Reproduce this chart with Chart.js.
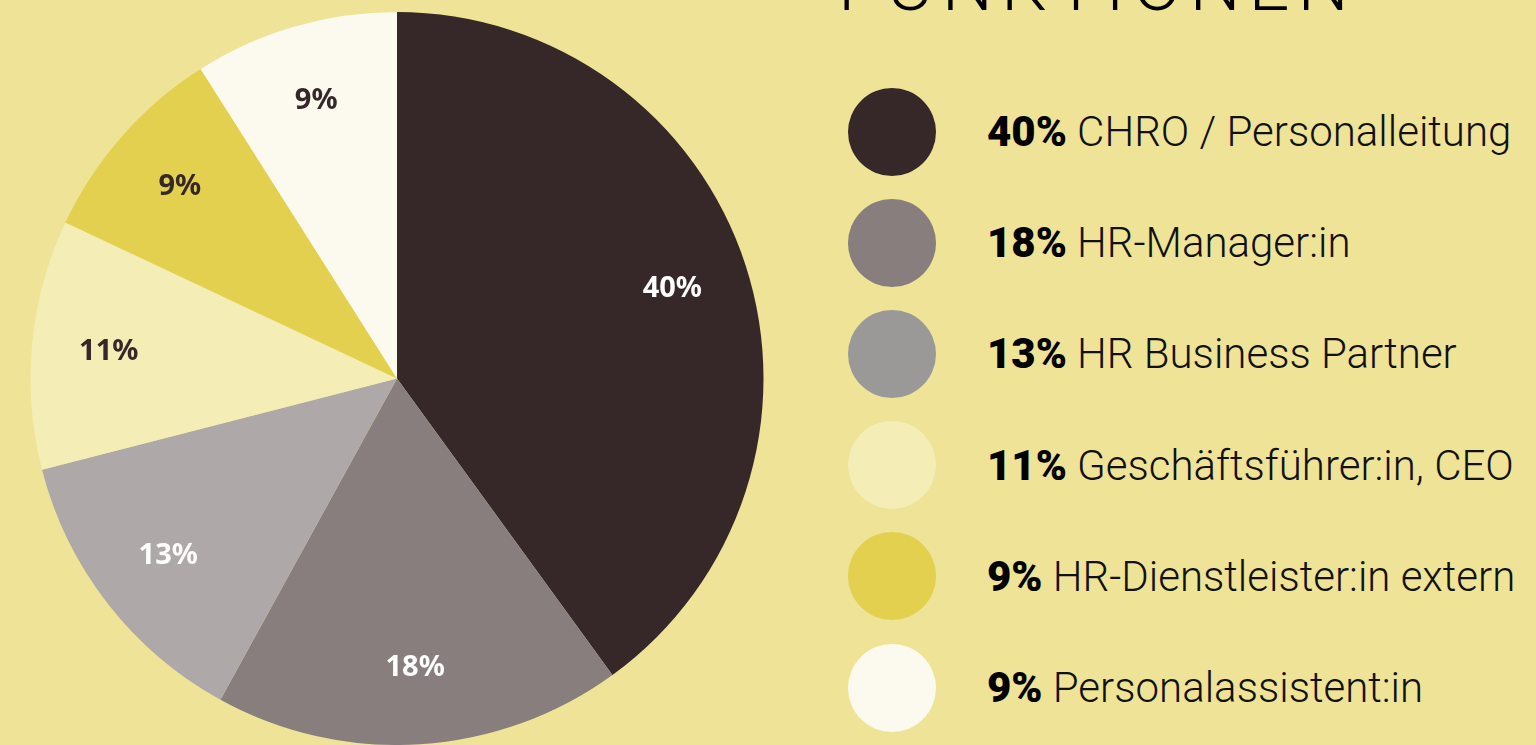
<!DOCTYPE html>
<html>
<head>
<meta charset="utf-8">
<script src="https://cdn.jsdelivr.net/npm/chart.js@4"></script>
<style>
  html, body { margin: 0; padding: 0; }
  body { width: 1536px; height: 745px; background: #EEE396; overflow: hidden; position: relative; font-family: Roboto, sans-serif; }
  #pieWrap { position: absolute; left: 0; top: 0; width: 794px; height: 745px; }
  #title { position: absolute; left: 838px; top: -50px; font-size: 72px; font-weight: 300; letter-spacing: 8px; color: #000; line-height: 72px; white-space: nowrap; }
  #legend { position: absolute; left: 848px; top: 76px; }
  .row { display: flex; align-items: center; height: 111.2px; }
  .dot { width: 88px; height: 88px; border-radius: 50%; flex: none; }
  .txt { margin-left: 51px; font-size: 42px; font-weight: 300; color: #111; white-space: nowrap; }
  .txt b { font-weight: 900; color: #000; }
</style>
</head>
<body>
<div id="pieWrap"><canvas id="pieChart"></canvas></div>
<div id="title">FUNKTIONEN</div>
<div id="legend"></div>

<script>
// data
const roles = ['CHRO / Personalleitung', 'HR-Manager:in', 'HR Business Partner', 'Geschäftsführer:in, CEO', 'HR-Dienstleister:in extern', 'Personalassistent:in'];
const shares = [40, 18, 13, 11, 9, 9];

// styles
const sliceColors = ['#362828', '#877E7D', '#AEA9A8', '#F4EDB6', '#E3D04F', '#FCFAEE'];
const legendColors = ['#362828', '#877E7D', '#9B9998', '#F4EDB6', '#E3D04F', '#FCFAEE'];
const labelColors = ['#FFFFFF', '#FFFFFF', '#FFFFFF', '#36282A', '#36282A', '#36282A'];

// legend on the right
const legend = document.getElementById('legend');
roles.forEach((r, i) => {
  const row = document.createElement('div');
  row.className = 'row';
  row.innerHTML = '<div class="dot" style="background:' + legendColors[i] + '"></div>' +
    '<div class="txt"><b>' + shares[i] + '%</b> ' + r + '</div>';
  legend.appendChild(row);
});

// percentage labels inside slices
const sliceLabels = {
  id: 'sliceLabels',
  afterDatasetsDraw(chart) {
    const ctx = chart.ctx;
    const arcs = chart.getDatasetMeta(0).data;
    ctx.save();
    ctx.font = 'bold 29px "Noto Sans", sans-serif';
    ctx.textAlign = 'center';
    ctx.textBaseline = 'middle';
    arcs.forEach((arc, i) => {
      const mid = (arc.startAngle + arc.endAngle) / 2;
      const r = arc.outerRadius * 0.79;
      ctx.fillStyle = labelColors[i];
      ctx.fillText(shares[i] + '%', arc.x + Math.cos(mid) * r, arc.y + Math.sin(mid) * r);
    });
    ctx.restore();
  }
};

const ctx = document.getElementById('pieChart').getContext('2d');

const pieChart = new Chart(ctx, {
  type: 'pie',
  data: {
    labels: roles,
    datasets: [{
      data: shares,
      backgroundColor: sliceColors,
      borderWidth: 0
    }]
  },
  options: {
    responsive: true,
    maintainAspectRatio: false,
    animation: false,
    layout: { padding: { top: 12, bottom: 0, left: 0, right: 0 } },
    plugins: {
      legend: { display: false },
      tooltip: { enabled: false }
    }
  },
  plugins: [sliceLabels]
});
</script>
</body>
</html>
